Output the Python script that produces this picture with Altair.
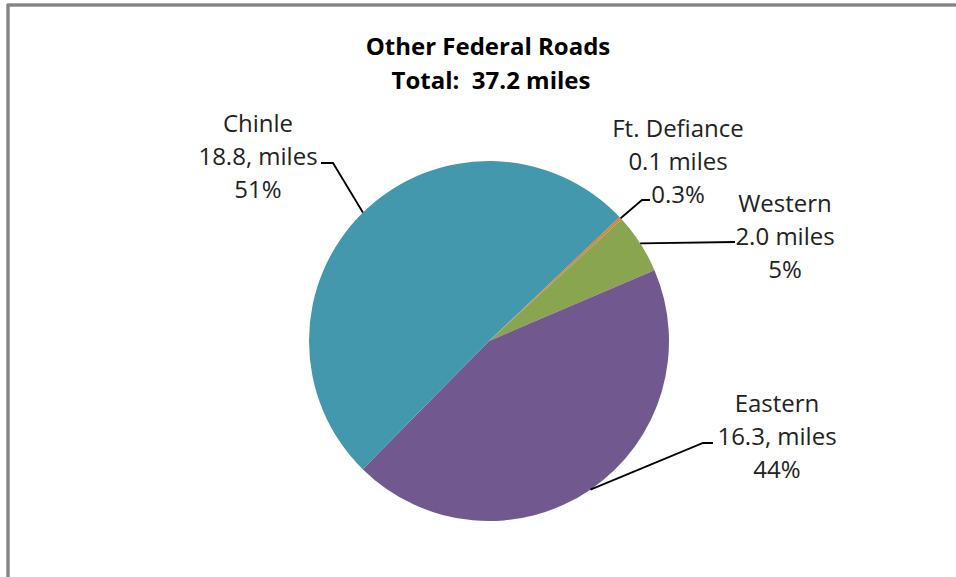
import altair as alt
import pandas as pd
import numpy as np

# ---------------- data ----------------
categories = ["Ft. Defiance", "Western", "Eastern", "Chinle"]
miles = [0.1, 2.0, 16.3, 18.8]
mile_labels = ["0.1 miles", "2.0 miles", "16.3, miles", "18.8, miles"]
pct_labels = ["0.3%", "5%", "44%", "51%"]
colors = ["#DB843D", "#8AA54F", "#71588F", "#4398AE"]
title_lines = ["Other Federal Roads", "Total:\u00a0 37.2 miles"]

# ---------------- layout ----------------
W, H = 956, 577
CX, CY, R = 489, 341, 180
START = np.deg2rad(46.5)
label_x = [678, 785, 777, 258]
label_base = [137, 212, 412, 132]
LINE_H = 33
leader_tail = [[(642, 200), (650, 200)], [(735, 242)], [(703, 443), (713, 443)], [(333, 163), (321, 163)]]
FONT = "Open Sans"
FS = 24

xs = alt.Scale(domain=[0, W], nice=False, zero=False)
ys = alt.Scale(domain=[0, H], nice=False, zero=False, reverse=True)

pie_df = pd.DataFrame({"category": categories, "miles": miles, "order": list(range(len(categories)))})

pie = alt.Chart(pie_df).mark_arc(outerRadius=R).encode(
    theta=alt.Theta("miles:Q", stack=True, scale=alt.Scale(range=[START, START + 2 * np.pi])),
    color=alt.Color("category:N", scale=alt.Scale(domain=categories, range=colors), legend=None),
    order=alt.Order("order:Q"),
    x=alt.value(CX),
    y=alt.value(CY),
)

# leader lines: start at slice mid-angle on the rim
total = sum(miles)
cum = np.cumsum([0] + miles)
rows = []
for i, c in enumerate(categories):
    mid = START + (cum[i] + cum[i + 1]) / 2 / total * 2 * np.pi
    pts = [(CX + R * np.sin(mid), CY - R * np.cos(mid))] + leader_tail[i]
    for j, (px, py) in enumerate(pts):
        rows.append({"cat": c, "idx": j, "x": px, "y": py})
lead_df = pd.DataFrame(rows)

leaders = alt.Chart(lead_df).mark_line(color="black", strokeWidth=1.8).encode(
    x=alt.X("x:Q", scale=xs, axis=None),
    y=alt.Y("y:Q", scale=ys, axis=None),
    detail="cat:N",
    order="idx:Q",
)

trows = []
for i, c in enumerate(categories):
    for j, t in enumerate([c, mile_labels[i], pct_labels[i]]):
        trows.append({"x": label_x[i], "y": label_base[i] + j * LINE_H, "t": t})
text_df = pd.DataFrame(trows)

labels = alt.Chart(text_df).mark_text(
    font=FONT, fontSize=FS, color="#222222", align="center", baseline="alphabetic"
).encode(
    x=alt.X("x:Q", scale=xs, axis=None),
    y=alt.Y("y:Q", scale=ys, axis=None),
    text="t:N",
)

title_df = pd.DataFrame({"t": title_lines, "x": [488, 491], "y": [55, 89]})
title = alt.Chart(title_df).mark_text(
    font=FONT, fontSize=24, fontWeight="bold", color="black", align="center", baseline="alphabetic"
).encode(
    x=alt.X("x:Q", scale=xs, axis=None),
    y=alt.Y("y:Q", scale=ys, axis=None),
    text="t:N",
)

frame_left = alt.Chart(pie_df).mark_rule(color="#858585", strokeWidth=2.5).encode(
    x=alt.value(8), x2=alt.value(8), y=alt.value(4), y2=alt.value(H)
)
frame_top = alt.Chart(pie_df).mark_rule(color="#858585", strokeWidth=2.5).encode(
    x=alt.value(7), x2=alt.value(W), y=alt.value(5), y2=alt.value(5)
)

chart = alt.layer(pie, leaders, labels, title, frame_left, frame_top).properties(
    width=W, height=H, padding=0, autosize=alt.AutoSizeParams(type="none")
).configure_view(strokeWidth=0)

chart.save("out.html", embed_options={"renderer": "svg", "actions": False})
